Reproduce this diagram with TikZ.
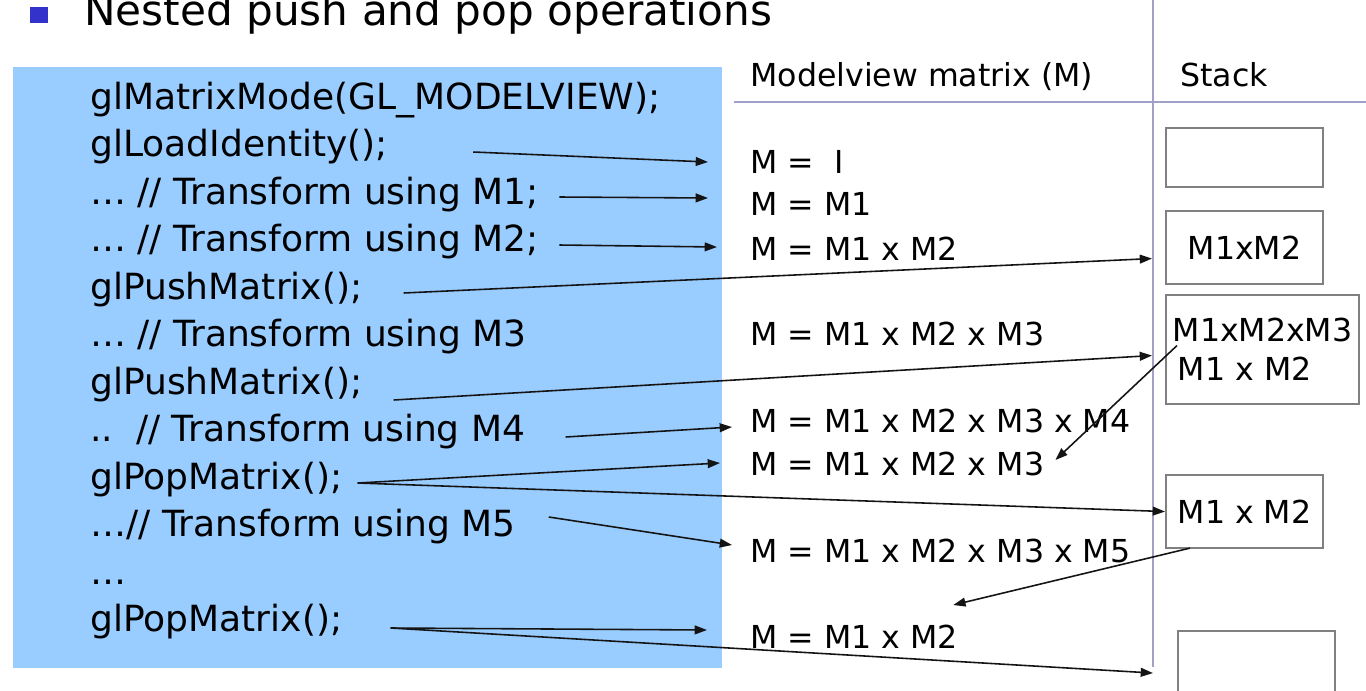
\documentclass[tikz,border=0pt]{standalone}
\usepackage{fontspec}
\setmainfont{DejaVu Sans}
\usetikzlibrary{arrows.meta,calc}

\tikzset{
	code/.style={anchor=base west, inner sep=0pt, font=\fontsize{20.5}{24}\selectfont},
	matline/.style={anchor=base west, inner sep=0pt, font=\fontsize{18}{22}\selectfont},
	stackbox/.style={draw=boxgray, line width=1.2pt, anchor=north west, inner sep=0pt, minimum width=3.14cm, font=\fontsize{18}{22}\selectfont},
	link/.style={-{Triangle[length=7pt,width=5pt]}, line width=0.9pt, draw=linkblack},
	divider/.style={draw=rulepurple, line width=1.4pt}
}

\begin{document}
\begin{tikzpicture}[x=0.02cm, y=-0.02cm]
	\definecolor{codeblue}{RGB}{153,204,255}
	\definecolor{bulletblue}{RGB}{51,51,204}
	\definecolor{boxgray}{RGB}{128,128,128}
	\definecolor{rulepurple}{RGB}{160,160,200}
	\definecolor{linkblack}{RGB}{20,20,20}

	\useasboundingbox (0,0) rectangle (1366,690);
	\clip (0,0) rectangle (1366,690);

	% heading
	\fill[bulletblue] (30,7) rectangle (48,23);
	\node[anchor=base west, inner sep=0pt, font=\fontsize{24}{28}\selectfont] (title) at (84,25) {Nested push and pop operations};

	% code block
	\fill[codeblue] (13,67) rectangle (722,668);
	\node[code] (c1) at (90,109) {glMatrixMode(GL\_MODELVIEW);};
	\node[code] (c2) at (90,156) {glLoadIdentity();};
	\node[code] (c3) at (90,204) {… // Transform using M1;};
	\node[code] (c4) at (90,251) {… // Transform using M2;};
	\node[code] (c5) at (90,299) {glPushMatrix();};
	\node[code] (c6) at (90,346) {… // Transform using M3};
	\node[code] (c7) at (90,394) {glPushMatrix();};
	\node[code] (c8) at (90,441) {..\ \ // Transform using M4};
	\node[code] (c9) at (90,489) {glPopMatrix();};
	\node[code] (c10) at (90,536) {…// Transform using M5};
	\node[code] (c11) at (90,584) {…};
	\node[code] (c12) at (90,631) {glPopMatrix();};

	% table rules
	\draw[divider] (1153,0) -- (1153,667);
	\draw[divider] (734,102) -- (1366,102);

	\node[matline] (mhead) at (750,86) {Modelview matrix (M)};
	\node[matline] (shead) at (1180,86) {Stack};

	\node[matline] (m1) at (750,173) {M =\ \ I};
	\node[matline] (m2) at (750,215) {M = M1};
	\node[matline] (m3) at (750,260) {M = M1 x M2};
	\node[matline] (m4) at (750,345) {M = M1 x M2 x M3};
	\node[matline] (m5) at (750,432) {M = M1 x M2 x M3 x M4};
	\node[matline] (m6) at (750,475) {M = M1 x M2 x M3};
	\node[matline] (m7) at (750,562) {M = M1 x M2 x M3 x M5};
	\node[matline] (m8) at (750,648) {M = M1 x M2};

	% stack contents
	\node[stackbox, minimum height=1.18cm] (s1) at (1165,127) {};
	\node[stackbox, minimum height=1.46cm] (s2) at (1165,210) {M1xM2};
	\node[stackbox, minimum width=3.86cm, minimum height=2.18cm, align=left] (s3) at (1165,294) {M1xM2xM3\\\hspace{3pt}M1 x M2};
	\node[stackbox, minimum height=1.46cm] (s4) at (1165,474) {M1 x M2};
	\node[stackbox, minimum height=1.4cm] (s5) at (1177,630) {};

	% arrows
	\draw[link] ($(c2.base east)+(85,-4)$) -- ($(m1.base west)+(-42,-11)$);
	\draw[link] ($(c3.base east)+(20,-7)$) -- ($(m2.base west)+(-42,-17)$);
	\draw[link] ($(c4.base east)+(20,-6)$) -- ($(m3.base west)+(-33,-13)$);
	\draw[link] ($(c5.base east)+(41,-6)$) -- ($(s2.west)+(-13,11)$);
	\draw[link] ($(c7.base east)+(31,6)$) -- ($(s3.west)+(-13,6)$);
	\draw[link] ($(c8.base east)+(40,-4)$) -- ($(m5.base west)+(-18,-5)$);
	\draw[link] ($(c9.base east)+(15,-6)$) coordinate (pop1) -- ($(m6.base west)+(-30,-12)$);
	\draw[link] (pop1) -- (s4.west);
	\draw[link] ($(c10.base east)+(33,-19)$) -- ($(m7.base west)+(-18,-17)$);
	\draw[link] ($(s3.west)+(12,-4)$) -- ($(m6.base east)+(11,-15)$);
	\draw[link] ($(s4.south west)+(25,-1)$) -- ($(m8.base east)+(-5,-43)$);
	\draw[link] ($(c12.base east)+(48,-3)$) coordinate (pop2) -- ($(m8.base west)+(-43,-18)$);
	\draw[link] (pop2) -- ($(s5.west)+(-24,7)$);
\end{tikzpicture}
\end{document}
